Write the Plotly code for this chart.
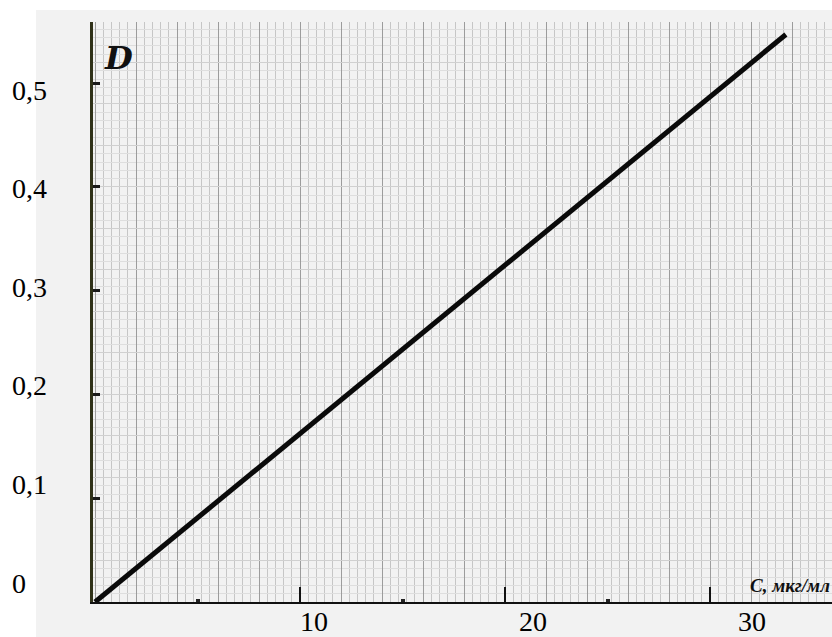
import plotly.graph_objects as go

# ---- data ----
conc = [0, 33.7]            # C, мкг/мл
density = [0, 0.547]        # D
x_tick_vals = [10, 20, 30]
x_tick_text = ["10", "20", "30"]
x_minor_vals = [5, 15, 25]
y_tick_vals = [0, 0.1, 0.2, 0.3, 0.4, 0.5]
y_tick_text = ["0", "0,1", "0,2", "0,3", "0,4", "0,5"]

W, H = 832, 637
L, R, T, B = 93, 0, 22, 35
serif = "Liberation Serif"

fig = go.Figure()
fig.add_trace(go.Scatter(x=conc, y=density, mode="lines",
                         line=dict(color="#0a0a0a", width=5),
                         showlegend=False, hoverinfo="skip"))
# invisible helpers so overlay axes exist
fig.add_trace(go.Scatter(x=[None], y=[None], xaxis="x2", yaxis="y2",
                         showlegend=False, hoverinfo="skip"))
fig.add_trace(go.Scatter(x=[None], y=[None], xaxis="x3", yaxis="y3",
                         showlegend=False, hoverinfo="skip"))

xr = [-0.1, 35.95]
yr = [0, 0.559]

fig.update_layout(
    template="none",
    width=W, height=H,
    margin=dict(l=L, r=R, t=T, b=B, pad=0, autoexpand=False),
    paper_bgcolor="white",
    plot_bgcolor="#ececec",
    showlegend=False,
    # main axes: graph-paper grid
    xaxis=dict(range=xr, showticklabels=False, ticks="", zeroline=False, automargin=False,
               showgrid=True, tick0=0, dtick=2, gridcolor="#9c9c9c", gridwidth=1,
               minor=dict(dtick=0.4, showgrid=True, gridcolor="#c6c6c6", gridwidth=1),
               showline=False),
    yaxis=dict(range=yr, showticklabels=False, ticks="", zeroline=False, automargin=False,
               showgrid=True, tick0=0, dtick=0.04, gridcolor="#d0d0d0", gridwidth=1,
               minor=dict(dtick=0.008, showgrid=True, gridcolor="#dedede", gridwidth=1),
               showline=False),
    # label axes (typed labels sit on a slightly different scale)
    xaxis2=dict(overlaying="x", anchor="y", side="bottom", automargin=False,
                range=[(L - 95) / 21.9, (W - 95) / 21.9],
                tickmode="array", tickvals=x_tick_vals, ticktext=x_tick_text,
                ticks="", ticklen=0, showgrid=False, zeroline=False, showline=False,
                tickfont=dict(family=serif, size=28, color="black")),
    yaxis2=dict(overlaying="y", anchor="x", side="left", automargin=False,
                range=[(583 - (H - B)) / 986, (583 - T) / 986],
                showticklabels=False, ticks="", showgrid=False,
                zeroline=False, showline=False),
    # tick-mark axes
    xaxis3=dict(overlaying="x", anchor="y3", range=xr, automargin=False,
                tickmode="array", tickvals=x_tick_vals, showticklabels=False,
                ticks="inside", ticklen=15, tickwidth=2, tickcolor="#111111",
                minor=dict(tickvals=x_minor_vals, ticks="inside", ticklen=3,
                           tickwidth=4, tickcolor="#222222"),
                showgrid=False, zeroline=False,
                showline=True, linecolor="#111111", linewidth=2),
    yaxis3=dict(overlaying="y", anchor="x3", range=yr, automargin=False,
                tickmode="array", tickvals=y_tick_vals[1:], showticklabels=False,
                ticks="inside", ticklen=7, tickwidth=3, tickcolor="#1a1a1a",
                showgrid=False, zeroline=False,
                showline=True, linecolor="#2f3118", linewidth=3),
)

# light grey scan background behind the plot
fig.add_shape(type="rect", xref="paper", yref="paper",
              x0=(36 - L) / (W - L - R), x1=1.0,
              y0=-B / (H - T - B), y1=(H - 10 - B) / (H - T - B),
              fillcolor="#f2f2f2", line=dict(width=0), layer="below")

# y tick labels (left aligned as typed in the original)
for v, lab in zip(y_tick_vals, y_tick_text):
    fig.add_annotation(text=lab, xref="paper", yref="y2",
                       x=(10 - L) / (W - L - R), y=v,
                       xanchor="left", yanchor="middle", showarrow=False,
                       font=dict(family=serif, size=28, color="black"))

# handwritten axis names
fig.add_annotation(text="<b><i>D</i></b>", xref="paper", yref="paper",
                   x=(102 - L) / (W - L - R), y=(H - B - 58) / (H - T - B),
                   xanchor="left", yanchor="middle", showarrow=False,
                   font=dict(family="DejaVu Serif", size=32, color="#111111"))
fig.add_annotation(text="<b><i>C, мкг/мл</i></b>", xref="paper", yref="paper",
                   x=1.0, y=17 / (H - T - B),
                   xanchor="right", yanchor="middle", showarrow=False,
                   font=dict(family=serif, size=19, color="#111111"))

fig.write_html("out.html",
               config={"displayModeBar": False, "staticPlot": True},
               post_script="document.body.style.margin='0';document.body.style.overflow='hidden';")
